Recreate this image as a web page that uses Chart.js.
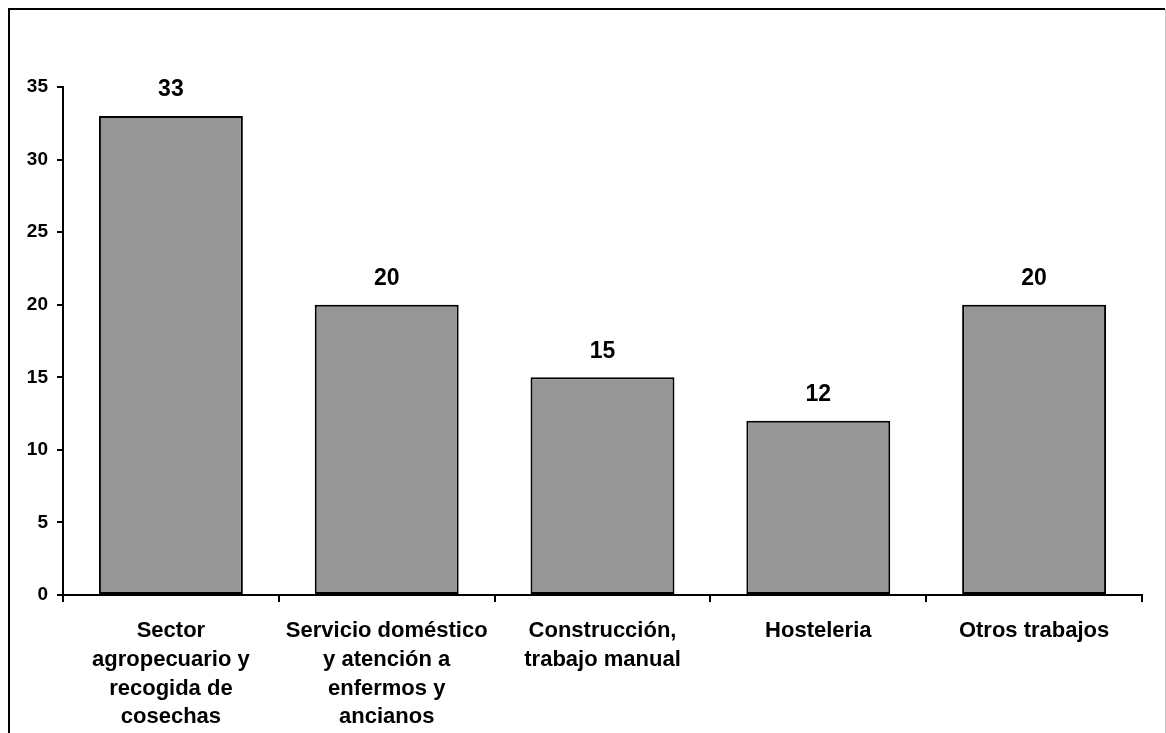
<!DOCTYPE html>
<html>
<head>
<meta charset="utf-8">
<script src="https://cdn.jsdelivr.net/npm/chart.js@4.4.1/dist/chart.umd.min.js"></script>
<style>
  html, body { margin: 0; padding: 0; background: #ffffff; }
  canvas { display: block; }
</style>
</head>
<body>
<canvas id="chart" width="1166" height="733"></canvas>
<script>
// Categorías de trabajo (cada elemento es una etiqueta multilínea)
const categories = [
  ['Sector', 'agropecuario y', 'recogida de', 'cosechas'],
  ['Servicio doméstico', 'y atención a', 'enfermos y', 'ancianos'],
  ['Construcción,', 'trabajo manual'],
  ['Hosteleria'],
  ['Otros trabajos']
];
const values = [33, 20, 15, 12, 20];
const yTicks = [0, 5, 10, 15, 20, 25, 30, 35];

const FONT = '"Liberation Sans", Arial, Helvetica, sans-serif';

// Marco exterior del gráfico
const framePlugin = {
  id: 'frame',
  beforeDraw(chart) {
    const ctx = chart.ctx;
    ctx.save();
    ctx.fillStyle = '#ffffff';
    ctx.fillRect(0, 0, chart.width, chart.height);
    ctx.strokeStyle = '#000000';
    ctx.lineWidth = 2;
    ctx.beginPath();
    ctx.moveTo(9, chart.height);
    ctx.lineTo(9, 9);
    ctx.lineTo(1165, 9);
    ctx.stroke();
    ctx.strokeStyle = '#c8c8c8';
    ctx.lineWidth = 1;
    ctx.beginPath();
    ctx.moveTo(1165.5, 9);
    ctx.lineTo(1165.5, chart.height);
    ctx.stroke();
    ctx.restore();
  }
};

// Valores encima de cada barra
const valueLabels = {
  id: 'valueLabels',
  afterDatasetsDraw(chart) {
    const ctx = chart.ctx;
    const meta = chart.getDatasetMeta(0);
    ctx.save();
    ctx.font = 'bold 23px ' + FONT;
    ctx.fillStyle = '#000000';
    ctx.textAlign = 'center';
    ctx.textBaseline = 'middle';
    meta.data.forEach((bar, i) => {
      ctx.fillText(String(values[i]), bar.x, bar.y - 26);
    });
    ctx.restore();
  }
};

new Chart(document.getElementById('chart'), {
  type: 'bar',
  data: {
    labels: categories,
    datasets: [{
      data: values,
      backgroundColor: '#969696',
      borderColor: '#000000',
      borderWidth: 2,
      borderSkipped: false,
      barPercentage: 0.667,
      categoryPercentage: 1.0
    }]
  },
  options: {
    responsive: false,
    animation: false,
    layout: { padding: { top: 87, right: 24, bottom: 0, left: 0 } },
    plugins: {
      legend: { display: false },
      tooltip: { enabled: false }
    },
    scales: {
      x: {
        offset: true,
        border: { display: true, color: '#000000', width: 2 },
        grid: {
          offset: true,
          drawOnChartArea: false,
          drawTicks: true,
          tickLength: 7,
          color: '#000000',
          lineWidth: 2
        },
        ticks: {
          color: '#000000',
          padding: 15,
          maxRotation: 0,
          autoSkip: false,
          font: { family: FONT, size: 22, weight: 'bold', lineHeight: 1.3 }
        },
        afterFit(scale) { scale.height = 138; }
      },
      y: {
        min: 0,
        max: 35,
        afterBuildTicks(scale) { scale.ticks = yTicks.map(v => ({ value: v })); },
        border: { display: true, color: '#000000', width: 2 },
        grid: {
          drawOnChartArea: false,
          drawTicks: true,
          tickLength: 6,
          color: '#000000',
          lineWidth: 2
        },
        ticks: {
          color: '#000000',
          padding: 9,
          font: { family: FONT, size: 19, weight: 'bold' }
        },
        afterFit(scale) { scale.width = 63; }
      }
    }
  },
  plugins: [framePlugin, valueLabels]
});
</script>
</body>
</html>
